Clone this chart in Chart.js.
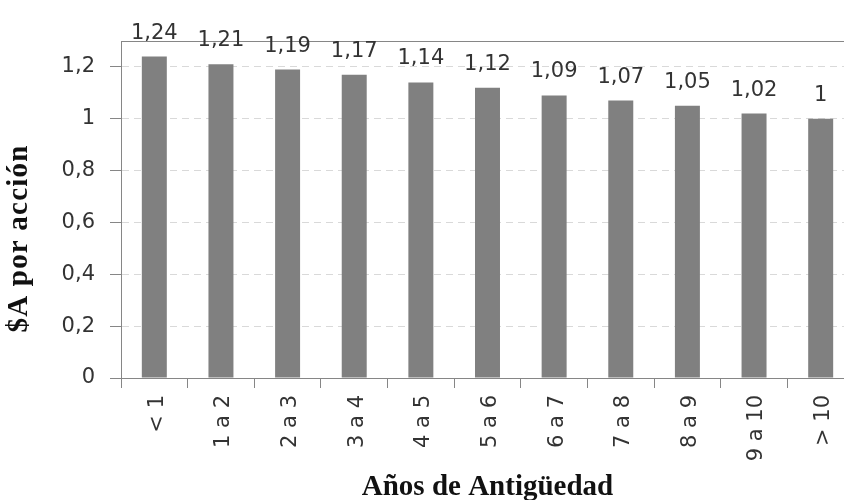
<!DOCTYPE html>
<html>
<head>
<meta charset="utf-8">
<script src="https://cdn.jsdelivr.net/npm/chart.js@4.4.1/dist/chart.umd.min.js"></script>
<style>
  html, body { margin: 0; padding: 0; background: #ffffff; overflow: hidden; }
  #wrap { position: relative; width: 880px; height: 500px; }
</style>
</head>
<body>
<div id="wrap"><canvas id="c"></canvas></div>
<script>
const categories = ['< 1', '1 a 2', '2 a 3', '3 a 4', '4 a 5', '5 a 6', '6 a 7', '7 a 8', '8 a 9', '9 a 10', '> 10'];
const values = [1.24, 1.21, 1.19, 1.17, 1.14, 1.12, 1.09, 1.07, 1.05, 1.02, 1];
const yTickValues = [0, 0.2, 0.4, 0.6, 0.8, 1, 1.2];
const yTitle = '$A por acción';
const xTitle = 'Años de Antigüedad';

function fmt(v) {
  return String(+(+v).toFixed(2)).replace('.', ',');
}

const axisColor = '#868686';
const textColor = '#333333';
const sansFont = "'DejaVu Sans', Verdana, sans-serif";
const serifFont = "'Liberation Serif', 'Times New Roman', serif";

const dataLabels = {
  id: 'dataLabels',
  afterDatasetsDraw(chart) {
    const ctx = chart.ctx;
    const meta = chart.getDatasetMeta(0);
    ctx.save();
    ctx.font = '21px ' + sansFont;
    ctx.fillStyle = textColor;
    ctx.textAlign = 'center';
    ctx.textBaseline = 'alphabetic';
    meta.data.forEach((bar, i) => {
      ctx.fillText(fmt(chart.data.datasets[0].data[i]), bar.x, bar.y - 18);
    });
    ctx.restore();
  }
};

// y-axis title, placed as in the reference (slightly below the axis centre)
const yTitlePlugin = {
  id: 'yTitlePlugin',
  afterDraw(chart) {
    const ctx = chart.ctx;
    const area = chart.chartArea;
    ctx.save();
    ctx.font = 'bold 29px ' + serifFont;
    try { ctx.letterSpacing = '1.2px'; } catch (e) {}
    ctx.fillStyle = '#111111';
    ctx.textAlign = 'center';
    ctx.textBaseline = 'middle';
    ctx.translate(20, (area.top + area.bottom) / 2 + 29);
    ctx.rotate(-Math.PI / 2);
    ctx.fillText(yTitle, 0, 0);
    ctx.restore();
  }
};

new Chart(document.getElementById('c'), {
  type: 'bar',
  data: {
    labels: categories,
    datasets: [{
      data: values,
      backgroundColor: '#808080',
      borderWidth: 0,
      barPercentage: 0.375,
      categoryPercentage: 1.0
    }]
  },
  options: {
    responsive: true,
    maintainAspectRatio: false,
    devicePixelRatio: 1,
    animation: false,
    layout: { padding: { left: 0, right: 26, top: 41, bottom: 0 } },
    plugins: {
      legend: { display: false },
      tooltip: { enabled: false },
      title: { display: false }
    },
    scales: {
      x: {
        position: 'bottom',
        afterFit(s) { s.height = 122; },
        grid: {
          display: true,
          drawOnChartArea: false,
          drawTicks: true,
          tickLength: 10,
          offset: true,
          tickColor: axisColor,
          lineWidth: 1
        },
        border: { display: true, color: axisColor, width: 1 },
        ticks: {
          autoSkip: false,
          minRotation: 90,
          maxRotation: 90,
          padding: 7,
          labelOffset: 3,
          color: textColor,
          font: { family: sansFont, size: 21 }
        },
        title: {
          display: true,
          text: xTitle,
          color: '#111111',
          font: { family: serifFont, size: 29, weight: 'bold' },
          padding: { top: 0, bottom: -5 }
        }
      },
      x2: {
        position: 'top',
        afterFit(s) { s.height = 0; },
        grid: { display: false, drawOnChartArea: false, drawTicks: false },
        border: { display: true, color: axisColor, width: 1 },
        ticks: { display: false }
      },
      y: {
        min: 0,
        max: 1.3,
        afterFit(s) { s.width = 121; },
        afterBuildTicks(s) { s.ticks = yTickValues.map(v => ({ value: v })); },
        grid: {
          display: true,
          drawOnChartArea: true,
          drawTicks: true,
          tickLength: 11,
          color: '#d9d9d9',
          tickColor: axisColor,
          tickBorderDash: [],
          lineWidth: 1
        },
        border: { display: true, color: axisColor, width: 1, dash: [7, 5] },
        ticks: {
          padding: 15,
          color: textColor,
          font: { family: sansFont, size: 21 },
          callback: (v) => fmt(v)
        },
        title: { display: false }
      }
    }
  },
  plugins: [dataLabels, yTitlePlugin]
});
</script>
</body>
</html>
